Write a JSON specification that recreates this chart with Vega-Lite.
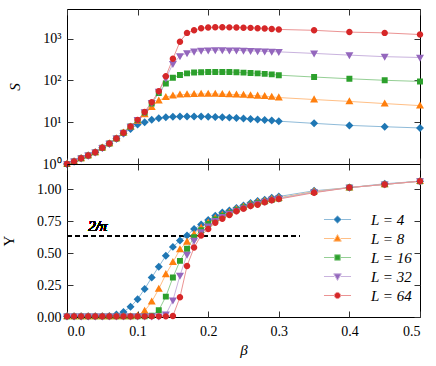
{
"$schema": "https://vega.github.io/schema/vega-lite/v6.json",
"padding": {"left": 1, "top": 8, "right": 5, "bottom": 5},
"spacing": 0,
"bounds": "flush",
"config": {
  "font": "Liberation Serif",
  "view": {"stroke": "black", "strokeWidth": 1},
  "axis": {"domain": false, "grid": false, "tickColor": "#333", "tickSize": -6, "tickWidth": 1, "labelFont": "Liberation Serif", "labelFontSize": 14, "labelColor": "black", "titleFont": "Liberation Serif", "titleFontSize": 15, "titleFontWeight": "normal", "titleColor": "black", "minExtent": 0},
  "concat": {"spacing": 0}
},
"datasets": {
  "d": [
{"L":4,"b":0,"S":1.0,"Y":0.005},{"L":4,"b":0.01,"S":1.15,"Y":0.005},{"L":4,"b":0.02,"S":1.37,"Y":0.005},{"L":4,"b":0.03,"S":1.6,"Y":0.005},{"L":4,"b":0.04,"S":1.9,"Y":0.005},{"L":4,"b":0.05,"S":2.45,"Y":0.005},{"L":4,"b":0.06,"S":3.05,"Y":0.008},{"L":4,"b":0.07,"S":4.0,"Y":0.02},{"L":4,"b":0.08,"S":5.4,"Y":0.04},{"L":4,"b":0.09,"S":6.9,"Y":0.08},{"L":4,"b":0.1,"S":8.8,"Y":0.14},{"L":4,"b":0.11,"S":10.0,"Y":0.22},{"L":4,"b":0.12,"S":11.4,"Y":0.31},{"L":4,"b":0.13,"S":12.5,"Y":0.395},{"L":4,"b":0.14,"S":13.1,"Y":0.48},{"L":4,"b":0.15,"S":13.5,"Y":0.55},{"L":4,"b":0.16,"S":13.7,"Y":0.6},{"L":4,"b":0.17,"S":13.8,"Y":0.64},{"L":4,"b":0.18,"S":13.8,"Y":0.69},{"L":4,"b":0.19,"S":13.7,"Y":0.725},{"L":4,"b":0.2,"S":13.6,"Y":0.76},{"L":4,"b":0.21,"S":13.4,"Y":0.795},{"L":4,"b":0.22,"S":13.2,"Y":0.82},{"L":4,"b":0.23,"S":12.9,"Y":0.835},{"L":4,"b":0.24,"S":12.6,"Y":0.855},{"L":4,"b":0.25,"S":12.3,"Y":0.875},{"L":4,"b":0.26,"S":12.0,"Y":0.895},{"L":4,"b":0.27,"S":11.7,"Y":0.91},{"L":4,"b":0.28,"S":11.3,"Y":0.92},{"L":4,"b":0.29,"S":11.0,"Y":0.935},{"L":4,"b":0.3,"S":10.6,"Y":0.945},{"L":4,"b":0.35,"S":9.4,"Y":0.99},{"L":4,"b":0.4,"S":8.4,"Y":1.015},{"L":4,"b":0.45,"S":7.8,"Y":1.045},{"L":4,"b":0.5,"S":7.3,"Y":1.065},
{"L":8,"b":0,"S":1.0,"Y":0.005},{"L":8,"b":0.01,"S":1.15,"Y":0.005},{"L":8,"b":0.02,"S":1.37,"Y":0.005},{"L":8,"b":0.03,"S":1.6,"Y":0.005},{"L":8,"b":0.04,"S":1.9,"Y":0.005},{"L":8,"b":0.05,"S":2.45,"Y":0.005},{"L":8,"b":0.06,"S":3.1,"Y":0.005},{"L":8,"b":0.07,"S":4.1,"Y":0.005},{"L":8,"b":0.08,"S":5.6,"Y":0.005},{"L":8,"b":0.09,"S":7.8,"Y":0.005},{"L":8,"b":0.1,"S":10.8,"Y":0.01},{"L":8,"b":0.11,"S":15.5,"Y":0.047},{"L":8,"b":0.12,"S":23,"Y":0.12},{"L":8,"b":0.13,"S":33,"Y":0.22},{"L":8,"b":0.14,"S":40,"Y":0.335},{"L":8,"b":0.15,"S":43.5,"Y":0.43},{"L":8,"b":0.16,"S":45.5,"Y":0.53},{"L":8,"b":0.17,"S":46.5,"Y":0.59},{"L":8,"b":0.18,"S":47,"Y":0.65},{"L":8,"b":0.19,"S":47.5,"Y":0.7},{"L":8,"b":0.2,"S":47.5,"Y":0.74},{"L":8,"b":0.21,"S":47.5,"Y":0.775},{"L":8,"b":0.22,"S":47,"Y":0.8},{"L":8,"b":0.23,"S":46.5,"Y":0.82},{"L":8,"b":0.24,"S":46,"Y":0.845},{"L":8,"b":0.25,"S":45,"Y":0.865},{"L":8,"b":0.26,"S":44,"Y":0.885},{"L":8,"b":0.27,"S":43,"Y":0.9},{"L":8,"b":0.28,"S":42,"Y":0.91},{"L":8,"b":0.29,"S":40.5,"Y":0.925},{"L":8,"b":0.3,"S":39,"Y":0.935},{"L":8,"b":0.35,"S":35,"Y":0.985},{"L":8,"b":0.4,"S":31.5,"Y":1.015},{"L":8,"b":0.45,"S":28,"Y":1.04},{"L":8,"b":0.5,"S":25,"Y":1.065},
{"L":16,"b":0,"S":1.0,"Y":0.005},{"L":16,"b":0.01,"S":1.15,"Y":0.005},{"L":16,"b":0.02,"S":1.37,"Y":0.005},{"L":16,"b":0.03,"S":1.6,"Y":0.005},{"L":16,"b":0.04,"S":1.9,"Y":0.005},{"L":16,"b":0.05,"S":2.45,"Y":0.005},{"L":16,"b":0.06,"S":3.1,"Y":0.005},{"L":16,"b":0.07,"S":4.1,"Y":0.005},{"L":16,"b":0.08,"S":5.6,"Y":0.005},{"L":16,"b":0.09,"S":7.9,"Y":0.005},{"L":16,"b":0.1,"S":11.3,"Y":0.005},{"L":16,"b":0.11,"S":17,"Y":0.005},{"L":16,"b":0.12,"S":28,"Y":0.01},{"L":16,"b":0.13,"S":50,"Y":0.053},{"L":16,"b":0.14,"S":85,"Y":0.16},{"L":16,"b":0.15,"S":116,"Y":0.31},{"L":16,"b":0.16,"S":136,"Y":0.44},{"L":16,"b":0.17,"S":148,"Y":0.535},{"L":16,"b":0.18,"S":155,"Y":0.625},{"L":16,"b":0.19,"S":158,"Y":0.68},{"L":16,"b":0.2,"S":160,"Y":0.73},{"L":16,"b":0.21,"S":160,"Y":0.765},{"L":16,"b":0.22,"S":160,"Y":0.795},{"L":16,"b":0.23,"S":159,"Y":0.815},{"L":16,"b":0.24,"S":157,"Y":0.84},{"L":16,"b":0.25,"S":154,"Y":0.86},{"L":16,"b":0.26,"S":151,"Y":0.88},{"L":16,"b":0.27,"S":148,"Y":0.895},{"L":16,"b":0.28,"S":144,"Y":0.905},{"L":16,"b":0.29,"S":140,"Y":0.92},{"L":16,"b":0.3,"S":134,"Y":0.93},{"L":16,"b":0.35,"S":121,"Y":0.98},{"L":16,"b":0.4,"S":110,"Y":1.015},{"L":16,"b":0.45,"S":101,"Y":1.04},{"L":16,"b":0.5,"S":95,"Y":1.065},
{"L":32,"b":0,"S":1.0,"Y":0.005},{"L":32,"b":0.01,"S":1.15,"Y":0.005},{"L":32,"b":0.02,"S":1.37,"Y":0.005},{"L":32,"b":0.03,"S":1.6,"Y":0.005},{"L":32,"b":0.04,"S":1.9,"Y":0.005},{"L":32,"b":0.05,"S":2.45,"Y":0.005},{"L":32,"b":0.06,"S":3.1,"Y":0.005},{"L":32,"b":0.07,"S":4.1,"Y":0.005},{"L":32,"b":0.08,"S":5.6,"Y":0.005},{"L":32,"b":0.09,"S":7.9,"Y":0.005},{"L":32,"b":0.1,"S":11.4,"Y":0.005},{"L":32,"b":0.11,"S":17.5,"Y":0.005},{"L":32,"b":0.12,"S":29,"Y":0.005},{"L":32,"b":0.13,"S":54,"Y":0.005},{"L":32,"b":0.14,"S":112,"Y":0.02},{"L":32,"b":0.15,"S":250,"Y":0.13},{"L":32,"b":0.16,"S":385,"Y":0.325},{"L":32,"b":0.17,"S":455,"Y":0.49},{"L":32,"b":0.18,"S":495,"Y":0.6},{"L":32,"b":0.19,"S":520,"Y":0.665},{"L":32,"b":0.2,"S":530,"Y":0.71},{"L":32,"b":0.21,"S":535,"Y":0.755},{"L":32,"b":0.22,"S":535,"Y":0.785},{"L":32,"b":0.23,"S":530,"Y":0.81},{"L":32,"b":0.24,"S":525,"Y":0.835},{"L":32,"b":0.25,"S":520,"Y":0.855},{"L":32,"b":0.26,"S":512,"Y":0.875},{"L":32,"b":0.27,"S":505,"Y":0.89},{"L":32,"b":0.28,"S":497,"Y":0.905},{"L":32,"b":0.29,"S":490,"Y":0.92},{"L":32,"b":0.3,"S":485,"Y":0.93},{"L":32,"b":0.35,"S":445,"Y":0.98},{"L":32,"b":0.4,"S":405,"Y":1.015},{"L":32,"b":0.45,"S":372,"Y":1.04},{"L":32,"b":0.5,"S":355,"Y":1.065},
{"L":64,"b":0,"S":1.0,"Y":0.005},{"L":64,"b":0.01,"S":1.15,"Y":0.005},{"L":64,"b":0.02,"S":1.37,"Y":0.005},{"L":64,"b":0.03,"S":1.6,"Y":0.005},{"L":64,"b":0.04,"S":1.9,"Y":0.005},{"L":64,"b":0.05,"S":2.45,"Y":0.005},{"L":64,"b":0.06,"S":3.1,"Y":0.005},{"L":64,"b":0.07,"S":4.1,"Y":0.005},{"L":64,"b":0.08,"S":5.6,"Y":0.005},{"L":64,"b":0.09,"S":7.9,"Y":0.005},{"L":64,"b":0.1,"S":11.4,"Y":0.005},{"L":64,"b":0.11,"S":17.7,"Y":0.005},{"L":64,"b":0.12,"S":30,"Y":0.005},{"L":64,"b":0.13,"S":55,"Y":0.005},{"L":64,"b":0.14,"S":126,"Y":0.005},{"L":64,"b":0.15,"S":330,"Y":0.008},{"L":64,"b":0.16,"S":850,"Y":0.155},{"L":64,"b":0.17,"S":1380,"Y":0.4},{"L":64,"b":0.18,"S":1600,"Y":0.545},{"L":64,"b":0.19,"S":1780,"Y":0.64},{"L":64,"b":0.2,"S":1850,"Y":0.69},{"L":64,"b":0.21,"S":1880,"Y":0.74},{"L":64,"b":0.22,"S":1880,"Y":0.77},{"L":64,"b":0.23,"S":1870,"Y":0.8},{"L":64,"b":0.24,"S":1860,"Y":0.83},{"L":64,"b":0.25,"S":1840,"Y":0.85},{"L":64,"b":0.26,"S":1820,"Y":0.87},{"L":64,"b":0.27,"S":1790,"Y":0.88},{"L":64,"b":0.28,"S":1760,"Y":0.9},{"L":64,"b":0.29,"S":1720,"Y":0.915},{"L":64,"b":0.3,"S":1670,"Y":0.925},{"L":64,"b":0.35,"S":1590,"Y":0.975},{"L":64,"b":0.4,"S":1440,"Y":1.015},{"L":64,"b":0.45,"S":1380,"Y":1.04},{"L":64,"b":0.5,"S":1260,"Y":1.065}
  ]
},
"data": {"name": "d"},
"vconcat": [
  {
    "width": 353, "height": 155,
    "resolve": {"axis": {"x": "independent", "y": "independent"}},
    "layer": [
      {
        "mark": {"type": "line", "strokeWidth": 1},
        "encoding": {
          "x": {"field": "b", "type": "quantitative", "scale": {"domain": [0, 0.5], "nice": false}, "axis": {"orient": "top", "labels": false, "title": null, "values": [0, 0.1, 0.2, 0.3, 0.4, 0.5]}},
          "y": {"field": "S", "type": "quantitative", "scale": {"type": "log", "domain": [1, 5150], "nice": false}, "axis": {"orient": "right", "labels": false, "title": null, "values": [1, 10, 100, 1000]}},
          "stroke": {"field": "L", "type": "nominal", "scale": {"domain": [4, 8, 16, 32, 64], "range": ["#8fbbd9", "#ffbf86", "#95cf95", "#c9b3de", "#eb9393"]}}
        }
      },
      {
        "mark": {"type": "point", "filled": true, "opacity": 1, "size": 58},
        "encoding": {
          "x": {"field": "b", "type": "quantitative", "axis": {"orient": "bottom", "labels": false, "title": null, "values": [0, 0.1, 0.2, 0.3, 0.4, 0.5]}},
          "y": {"field": "S", "type": "quantitative", "axis": {"orient": "left", "title": "S", "titleFontStyle": "italic", "values": [1, 10, 100, 1000], "labelPadding": 12, "titlePadding": 20, "labelExpr": "datum.value == 1 ? '10⁰' : datum.value == 10 ? '10¹' : datum.value == 100 ? '10²' : '10³'"}},
          "color": {"field": "L", "type": "nominal", "scale": {"domain": [4, 8, 16, 32, 64], "range": ["#1f77b4", "#ff7f0e", "#2ca02c", "#9467bd", "#d62728"]}},
          "shape": {"field": "L", "type": "nominal", "scale": {"domain": [4, 8, 16, 32, 64], "range": ["M-3.75,0H-1.05M1.05,0H3.75M0,-1.05L1.05,0L0,1.05L-1.05,0Z", "M-3.75,0H-0.9M0.9,0H3.75M0,-1.1L1.05,0.75L-1.05,0.75Z", "M-3.75,0H-0.78M0.78,0H3.75M-0.78,-0.78H0.78V0.78H-0.78Z", "M-3.75,0H-0.9M0.9,0H3.75M0,1.1L1.05,-0.75L-1.05,-0.75Z", "M-3.75,0H-0.85M0.85,0H3.75M-0.85,0A0.85,0.85 0 1,0 0.85,0A0.85,0.85 0 1,0 -0.85,0Z"]}}
        }
      }
    ]
  },
  {
    "width": 353, "height": 153,
    "resolve": {"axis": {"x": "independent", "y": "independent"}},
    "layer": [
      {
        "mark": {"type": "rule", "strokeDash": [5, 3], "color": "black", "strokeWidth": 1},
        "encoding": {
          "x": {"datum": 0, "type": "quantitative", "axis": null},
          "x2": {"datum": 0.33},
          "y": {"datum": 0.6366, "type": "quantitative", "axis": null}
        }
      },
      {
        "mark": {"type": "text", "text": "2/π", "align": "left", "baseline": "middle", "fontSize": 15, "font": "Liberation Serif", "fontStyle": "italic"},
        "encoding": {
          "x": {"datum": 0.03, "type": "quantitative", "axis": null},
          "y": {"datum": 0.71, "type": "quantitative", "axis": null}
        }
      },
      {
        "mark": {"type": "line", "strokeWidth": 1},
        "encoding": {
          "x": {"field": "b", "type": "quantitative", "scale": {"domain": [0, 0.5], "nice": false}, "axis": {"orient": "top", "labels": false, "title": null, "values": [0, 0.1, 0.2, 0.3, 0.4, 0.5]}},
          "y": {"field": "Y", "type": "quantitative", "scale": {"domain": [0, 1.2], "nice": false}, "axis": {"orient": "right", "labels": false, "title": null, "values": [0, 0.25, 0.5, 0.75, 1]}},
          "stroke": {"field": "L", "type": "nominal"}
        }
      },
      {
        "mark": {"type": "point", "filled": true, "opacity": 1, "size": 58},
        "encoding": {
          "x": {"field": "b", "type": "quantitative", "axis": {"orient": "bottom", "title": "β", "titleFontStyle": "italic", "values": [0, 0.1, 0.2, 0.3, 0.4, 0.5], "format": ".1f", "labelPadding": 13}},
          "y": {"field": "Y", "type": "quantitative", "axis": {"orient": "left", "title": "Υ", "values": [0, 0.25, 0.5, 0.75, 1], "format": ".2f", "labelPadding": 12, "titlePadding": 20}},
          "color": {"field": "L", "type": "nominal"},
          "shape": {"field": "L", "type": "nominal"}
        }
      },
      {
        "transform": [{"filter": "false"}],
        "mark": {"type": "point", "filled": true, "opacity": 1, "strokeWidth": 1},
        "encoding": {
          "x": {"field": "b", "type": "quantitative", "axis": null},
          "y": {"field": "Y", "type": "quantitative", "axis": null},
          "color": {"field": "L", "type": "nominal", "legend": {"orient": "none", "legendX": 263, "legendY": 203, "title": null, "labelExpr": "'L = ' + datum.label", "labelFont": "Liberation Serif", "labelFontSize": 15, "labelFontStyle": "italic", "labelColor": "black", "symbolSize": 52, "symbolStrokeWidth": 1, "symbolOpacity": 1, "labelOffset": 26, "rowPadding": 3}},
          "stroke": {"field": "L", "type": "nominal", "legend": {"orient": "none", "legendX": 263, "legendY": 203, "title": null, "labelExpr": "'L = ' + datum.label", "labelFont": "Liberation Serif", "labelFontSize": 15, "labelFontStyle": "italic", "labelColor": "black", "symbolSize": 52, "symbolStrokeWidth": 1, "symbolOpacity": 1, "labelOffset": 26, "rowPadding": 3}},
          "shape": {"field": "L", "type": "nominal", "legend": {"orient": "none", "legendX": 263, "legendY": 203, "title": null, "labelExpr": "'L = ' + datum.label", "labelFont": "Liberation Serif", "labelFontSize": 15, "labelFontStyle": "italic", "labelColor": "black", "symbolSize": 52, "symbolStrokeWidth": 1, "symbolOpacity": 1, "labelOffset": 26, "rowPadding": 3}}
        }
      }
    ]
  }
]
}
